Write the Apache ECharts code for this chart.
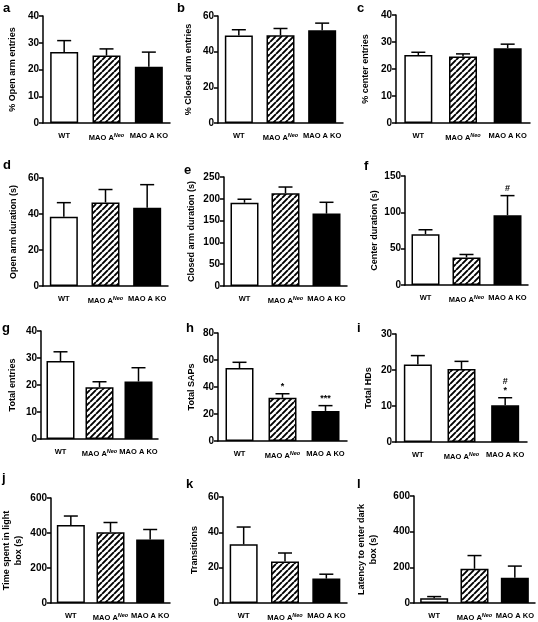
<!DOCTYPE html>
<html><head><meta charset="utf-8">
<script src="https://cdn.jsdelivr.net/npm/echarts@6/dist/echarts.min.js"></script>
<style>html,body{margin:0;padding:0;background:#fff}#c{width:538px;height:622px}</style>
</head><body><div id="c"></div>
<script>
// ---- data ----
const categories = ['WT', 'MAO A Neo', 'MAO A KO'];

const openArmEntries = [26.5, 25.2, 21.0];
const openArmEntriesSem = [4.3, 2.5, 5.5];
const closedArmEntries = [49.0, 49.2, 52.0];
const closedArmEntriesSem = [3.3, 3.8, 4.0];
const centerEntries = [25.2, 24.6, 27.7];
const centerEntriesSem = [1.0, 1.0, 1.5];
const openArmDuration = [38.5, 46.4, 43.5];
const openArmDurationSem = [7.8, 7.2, 12.8];
const closedArmDuration = [191, 213, 166];
const closedArmDurationSem = [8, 14, 26];
const centerDuration = [70, 38, 96];
const centerDurationSem = [6, 4, 27];
const totalEntries = [28.9, 19.2, 21.3];
const totalEntriesSem = [3.4, 2.0, 5.1];
const totalSAPs = [54, 32, 22.3];
const totalSAPsSem = [4.3, 3.0, 3.9];
const totalHDs = [21.5, 20.3, 10.2];
const totalHDsSem = [2.5, 2.1, 2.1];
const timeLightBox = [446, 405, 363];
const timeLightBoxSem = [51, 55, 57];
const transitions = [33.2, 23.5, 13.8];
const transitionsSem = [9.8, 4.8, 2.5];
const latencyDark = [26, 192, 142];
const latencyDarkSem = [10, 74, 65];

const sigCenterDuration = ['', '', '#'];
const sigTotalSAPs = ['', '*', '***'];
const sigTotalHDs = ['', '', '#\n*'];
const noSig = ['', '', ''];

// ---- layout ----
const panels = [
  {letter:'a', lx:3, ly:2, name:'% Open arm entries', mean:openArmEntries, sem:openArmEntriesSem, sig:noSig, max:40, interval:10, g:[43,16,127,107], gap:24},
  {letter:'b', lx:177, ly:2, name:'% Closed arm entries', mean:closedArmEntries, sem:closedArmEntriesSem, sig:noSig, max:60, interval:20, g:[218,16,125,107], gap:23},
  {letter:'c', lx:357, ly:2, name:'% center entries', mean:centerEntries, sem:centerEntriesSem, sig:noSig, max:40, interval:10, g:[396,15,134,108], gap:24},
  {letter:'d', lx:3, ly:159, name:'Open arm duration (s)', mean:openArmDuration, sem:openArmDurationSem, sig:noSig, max:60, interval:20, g:[43,178,125,108], gap:23},
  {letter:'e', lx:184, ly:164, name:'Closed arm duration (s)', mean:closedArmDuration, sem:closedArmDurationSem, sig:noSig, max:250, interval:50, g:[224,177,123,109], gap:26},
  {letter:'f', lx:364, ly:160, name:'Center duration (s)', mean:centerDuration, sem:centerDurationSem, sig:sigCenterDuration, max:150, interval:50, g:[405,176,123,109], gap:24},
  {letter:'g', lx:2, ly:322, name:'Total entries', mean:totalEntries, sem:totalEntriesSem, sig:noSig, max:40, interval:10, g:[41,331,117,108], gap:22},
  {letter:'h', lx:186, ly:322, name:'Total SAPs', mean:totalSAPs, sem:totalSAPsSem, sig:sigTotalSAPs, max:80, interval:20, g:[218,333,129,108], gap:20},
  {letter:'i', lx:357, ly:322, name:'Total HDs', mean:totalHDs, sem:totalHDsSem, sig:sigTotalHDs, max:30, interval:10, g:[396,334,131,108], gap:21},
  {letter:'j', lx:2, ly:472, name:'Time spent in light\nbox (s)', mean:timeLightBox, sem:timeLightBoxSem, sig:noSig, max:600, interval:200, g:[49,498,121,107], gap:26},
  {letter:'k', lx:186, ly:478, name:'Transitions', mean:transitions, sem:transitionsSem, sig:noSig, max:60, interval:20, g:[223,497,124,108], gap:22},
  {letter:'l', lx:357, ly:478, name:'Latency to enter dark\nbox (s)', mean:latencyDark, sem:latencyDarkSem, sig:noSig, max:600, interval:200, g:[414,496,121,108], gap:34}
];

// hatch pattern
function makeHatch() {
  const s = 6;
  const cv = document.createElement('canvas');
  cv.width = s; cv.height = s;
  const ctx = cv.getContext('2d');
  ctx.fillStyle = '#fff'; ctx.fillRect(0,0,s,s);
  ctx.strokeStyle = '#000'; ctx.lineWidth = 1.9;
  ctx.beginPath();
  for (let k = -1; k <= 1; k++) { ctx.moveTo(k*s, s); ctx.lineTo(k*s + s, 0); }
  ctx.stroke();
  return cv;
}
const hatch = {image: makeHatch(), repeat: 'repeat'};
const fills = ['#ffffff', hatch, '#000000'];

const FONT = 'Liberation Sans, Arial, Helvetica, sans-serif';
const grid = [], xAxis = [], yAxis = [], series = [], graphic = [];

panels.forEach((p, i) => {
  grid.push({left: p.g[0], top: p.g[1], width: p.g[2], height: p.g[3], containLabel: false});
  xAxis.push({
    type: 'category', gridIndex: i, data: categories,
    axisLine: {lineStyle: {color: '#000', width: 1.5}},
    axisTick: {show: false},
    axisLabel: {
      interval: 0, hideOverlap: false,
      margin: 9, color: '#000', fontFamily: FONT, fontWeight: 'bold', fontSize: 7.5,
      formatter: v => v === 'MAO A Neo' ? 'MAO A{sup|Neo}' : v,
      rich: {sup: {fontSize: 5.5, fontStyle: 'italic', fontWeight: 'bold', fontFamily: FONT, color: '#000', padding: [0,0,6,0]}}
    }
  });
  yAxis.push({
    type: 'value', gridIndex: i, min: 0, max: p.max, interval: p.interval,
    name: p.name, nameLocation: 'middle', nameGap: p.gap,
    nameTextStyle: {color: '#000', fontFamily: FONT, fontWeight: 'bold', fontSize: 9, lineHeight: 12},
    axisLine: {show: true, lineStyle: {color: '#000', width: 1.5}},
    axisTick: {show: true, length: 4, lineStyle: {color: '#000', width: 1.5}},
    axisLabel: {margin: 4, color: '#000', fontFamily: FONT, fontWeight: 'bold', fontSize: 10},
    splitLine: {show: false}
  });
  series.push({
    type: 'bar', xAxisIndex: i, yAxisIndex: i, barWidth: 28,
    data: p.mean.map((v, k) => ({value: v, itemStyle: {color: fills[k], borderColor: '#000', borderWidth: 1.5}})),
    silent: true, animation: false, z: 2
  });
  series.push({
    type: 'custom', xAxisIndex: i, yAxisIndex: i, z: 3, animation: false, silent: true,
    data: p.mean.map((v, k) => [k, v, v + p.sem[k]]),
    renderItem: function (params, api) {
      const k = api.value(0);
      const base = api.coord([k, api.value(1)]);
      const top = api.coord([k, api.value(2)]);
      const hw = 7;
      const sig = p.sig[k];
      const children = [
        {type: 'line', shape: {x1: base[0], y1: base[1], x2: top[0], y2: top[1]}, style: {stroke: '#000', lineWidth: 1.5}},
        {type: 'line', shape: {x1: top[0]-hw, y1: top[1], x2: top[0]+hw, y2: top[1]}, style: {stroke: '#000', lineWidth: 1.5}}
      ];
      if (sig) {
        children.push({type: 'text', style: {text: sig, x: top[0], y: top[1] - 3, textAlign: 'center', textVerticalAlign: 'bottom',
          fill: '#000', font: 'bold 9px ' + FONT, lineHeight: 9}});
      }
      return {type: 'group', children: children};
    }
  });
  graphic.push({type: 'text', left: p.lx, top: p.ly, style: {text: p.letter, fill: '#000', font: 'bold 13px ' + FONT}});
});

const chart = echarts.init(document.getElementById('c'), null, {renderer: 'canvas'});
chart.setOption({animation: false, backgroundColor: '#fff', grid, xAxis, yAxis, series, graphic});
</script>
</body></html>
